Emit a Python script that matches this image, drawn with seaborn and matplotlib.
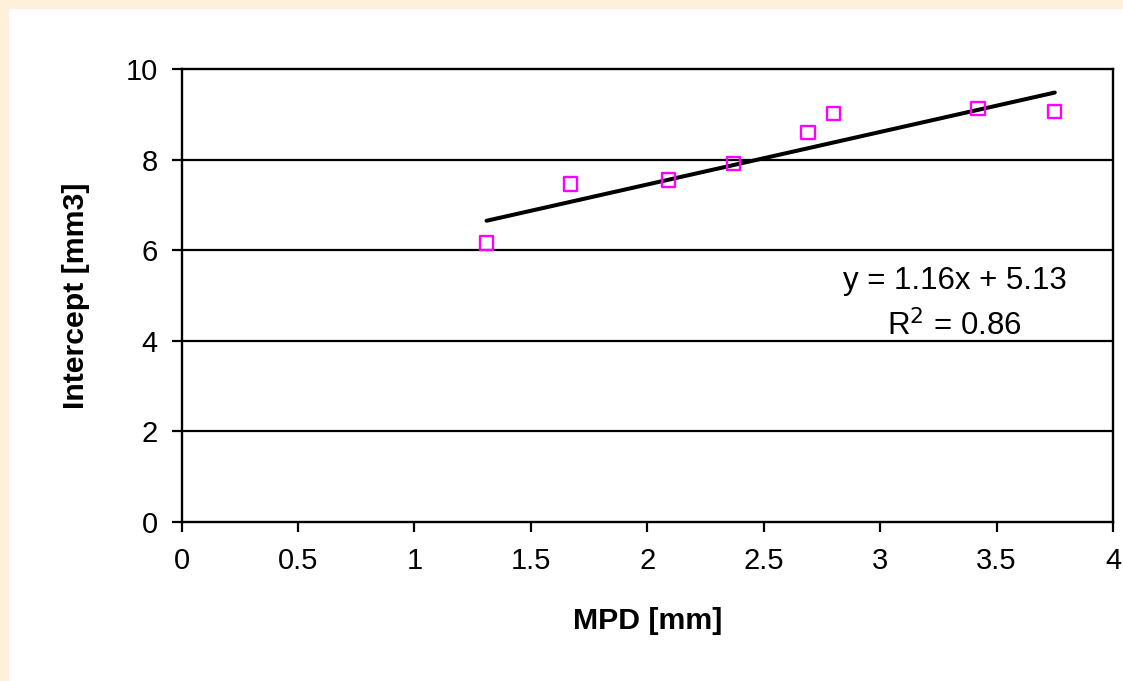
import matplotlib
matplotlib.use("Agg")
import matplotlib.pyplot as plt
import seaborn as sns
import numpy as np
import pandas as pd
from matplotlib.patches import Rectangle

# Data
mpd = [1.31, 1.67, 2.09, 2.37, 2.69, 2.80, 3.42, 3.75]
intercept = [6.16, 7.46, 7.55, 7.92, 8.59, 9.01, 9.12, 9.07]
slope_fit = 1.16
intercept_fit = 5.13
r2 = 0.86
x_ticks = [0, 0.5, 1, 1.5, 2, 2.5, 3, 3.5, 4]
x_tick_labels = ["0", "0.5", "1", "1.5", "2", "2.5", "3", "3.5", "4"]
y_ticks = [0, 2, 4, 6, 8, 10]

sns.set_theme(style="white")
plt.rcParams['font.family'] = ['Liberation Sans', 'DejaVu Sans']

W, H = 1123, 681
fig = plt.figure(figsize=(W / 100, H / 100), dpi=100)
fig.patch.set_facecolor("#FEF0DB")
fig.patches.append(Rectangle((9 / W, 0), 1 - 9 / W, (H - 9) / H, transform=fig.transFigure,
                             facecolor="white", edgecolor="none", zorder=-10))

left, right, top, bottom = 181.5, 1113, 69, 522
ax = fig.add_axes([left / W, 1 - bottom / H, (right - left) / W, (bottom - top) / H])
ax.set_zorder(5)
ax.set_facecolor("white")

df = pd.DataFrame({"MPD": mpd, "Intercept": intercept})
sns.scatterplot(data=df, x="MPD", y="Intercept", marker="s", s=90,
                facecolor="none", edgecolor="#FF00FF", linewidth=1.7, ax=ax, zorder=4)

xf = np.array([min(mpd), max(mpd)])
line_df = pd.DataFrame({"x": xf, "y": slope_fit * xf + intercept_fit})
sns.lineplot(data=line_df, x="x", y="y", color="black", linewidth=2.9, ax=ax, zorder=3)

ax.set_xlim(0, 4)
ax.set_ylim(0, 10)
ax.set_xticks(x_ticks)
ax.set_xticklabels(x_tick_labels)
ax.set_yticks(y_ticks)
for yv in y_ticks[1:-1]:
    ax.axhline(yv, color="black", linewidth=1.6, zorder=1)

for s in ax.spines.values():
    s.set_color("black")
    s.set_linewidth(1.7)
    s.set_visible(True)

ax.tick_params(axis="both", which="major", direction="out", length=7, width=1.6,
               color="black", labelsize=21, labelcolor="black", bottom=True, left=True)
ax.tick_params(axis="y", pad=10)
ax.tick_params(axis="x", pad=11)

ax.set_xlabel("MPD [mm]", fontsize=21.8, fontweight="bold", labelpad=23, color="black")
ax.set_ylabel("Intercept [mm3]", fontsize=21.8, fontweight="bold", labelpad=26, color="black")

ax.text(3.32, 5.32, f"y = {slope_fit:.2f}x + {intercept_fit:.2f}", fontsize=22.5,
        ha="center", va="center", color="black")
ax.text(3.32, 4.33, f"R$^2$ = {r2:.2f}", fontsize=22.5, ha="center", va="center", color="black")

fig.savefig("out.png", dpi=100, facecolor=fig.get_facecolor())
